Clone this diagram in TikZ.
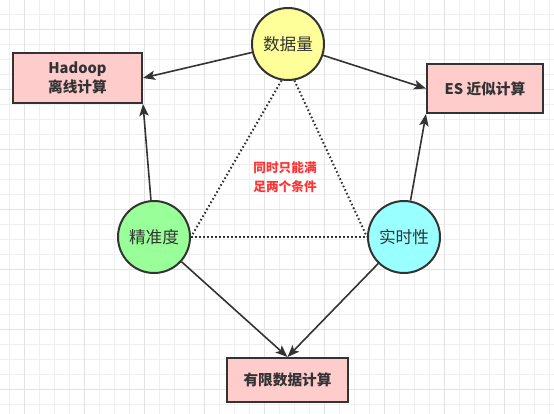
\documentclass[tikz,border=0pt]{standalone}
\usepackage{fontspec}
\setmainfont{Noto Sans CJK SC}
\usepackage{tikz}
\usetikzlibrary{arrows.meta}
\definecolor{gridminor}{HTML}{EFEFEF}
\definecolor{gridmajor}{HTML}{E2E2E2}
\definecolor{inkgray}{HTML}{333333}
\definecolor{boxpink}{HTML}{FFCCCC}
\definecolor{fillyellow}{HTML}{FFFF99}
\definecolor{fillgreen}{HTML}{99FF99}
\definecolor{fillcyan}{HTML}{99FFFF}
\definecolor{notered}{HTML}{FF3333}
\begin{document}
\begin{tikzpicture}[x=0.75pt, y=-0.75pt,
    factor/.style={circle, draw=inkgray, line width=1.5pt, minimum size=54pt,
      inner sep=0pt, text=inkgray, font=\fontsize{12.5}{14}\selectfont},
    result/.style={rectangle, draw=inkgray, line width=1.5pt, fill=boxpink,
      inner sep=0pt, text=inkgray, align=center, font=\bfseries\fontsize{11}{14}\selectfont},
    link/.style={draw=inkgray, line width=1.2pt, -{Stealth[length=9pt,width=7pt,inset=2pt]}},
    trade/.style={draw=inkgray, line width=1.5pt, dash pattern=on 1.2pt off 1.8pt}]
  \useasboundingbox (0,0) rectangle (554,414);
  \fill[white] (0,0) rectangle (554,414);
  % grid
  \foreach \i in {0,...,36} {
    \draw[gridminor, line width=0.75pt] (9+15*\i,0) -- (9+15*\i,414);
  }
  \foreach \i in {0,...,27} {
    \draw[gridminor, line width=0.75pt] (0,14+15*\i) -- (554,14+15*\i);
  }
  \foreach \i in {0,...,8} {
    \draw[gridmajor, line width=0.75pt] (24+60*\i,0) -- (24+60*\i,414);
  }
  \foreach \i in {0,...,6} {
    \draw[gridmajor, line width=0.75pt] (0,29+60*\i) -- (554,29+60*\i);
  }
  % factors
  \node[factor, fill=fillyellow] (volume) at (288,44) {数据量};
  \node[factor, fill=fillgreen] (accuracy) at (154,237) {精准度};
  \node[factor, fill=fillcyan] (realtime) at (404,237) {实时性};
  % results
  \node[result, minimum width=96.75pt, minimum height=37.5pt] (hadoop) at (77.5,78) {Hadoop\\离线计算};
  \node[result, minimum width=87pt, minimum height=36.75pt] (es) at (485,88.5) {ES 近似计算};
  \node[result, minimum width=90.75pt, minimum height=33pt] (limited) at (287.5,380) {有限数据计算};
  % note
  \node[text=notered, align=center, font=\bfseries\fontsize{9.5}{14}\selectfont] (note) at (285,177) {同时只能满\\足两个条件};
  % connectors
  \draw[link] (volume) -- (hadoop.east);
  \draw[link] (volume) -- (es.west);
  \draw[link] (accuracy) -- (hadoop.south east);
  \draw[link] (realtime) -- (es.south west);
  \draw[link] (accuracy) -- (limited.north);
  \draw[link] (realtime) -- (limited.north);
  \draw[trade] (volume.-100) -- (accuracy.east);
  \draw[trade] (volume.-80) -- (realtime.west);
  \draw[trade] (accuracy.east) -- (realtime.west);
\end{tikzpicture}
\end{document}
